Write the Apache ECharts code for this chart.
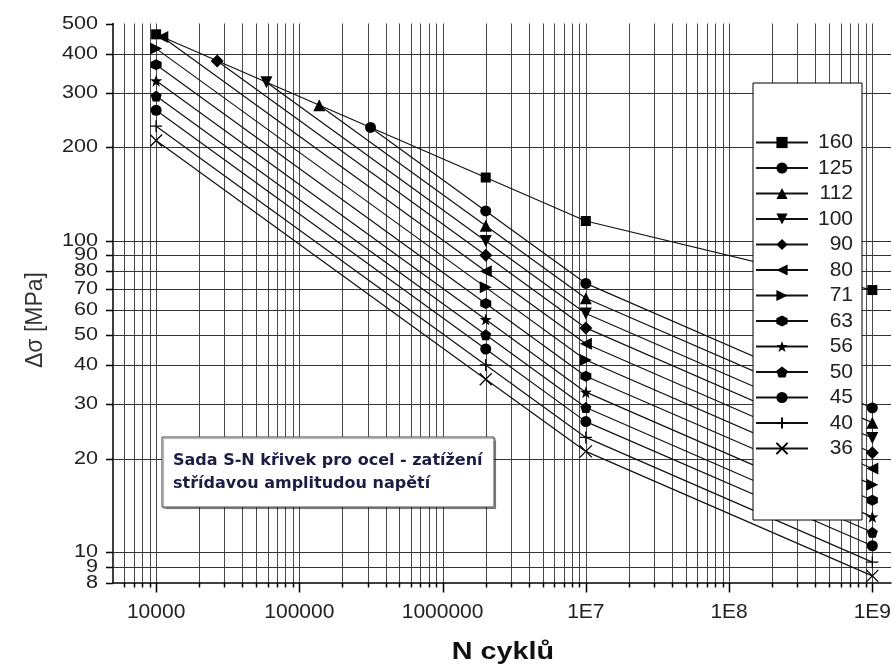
<!DOCTYPE html>
<html>
<head>
<meta charset="utf-8">
<script src="https://cdn.jsdelivr.net/npm/echarts@6/dist/echarts.min.js"></script>
<style>html,body{margin:0;padding:0;background:#fff}#c{width:894px;height:671px}</style>
</head>
<body>
<div id="c"></div>
<script>
// ---- data ----
const categories = ['160','125','112','100','90','80','71','63','56','50','45','40','36'];
const N_start = [10000, 314000, 137700, 58900, 26700, 11050, 10000, 10000, 10000, 10000, 10000, 10000, 10000];
const S_start = [461.6, 231.7, 273, 324, 379, 452.6, 415.2, 368.4, 327.5, 292.4, 263.2, 233.9, 210.5];
const N_points = [2000000, 10000000, 1000000000];
const S_2e6 = [160, 125, 112, 100, 90, 80, 71, 63, 56, 50, 45, 40, 36];
const S_1e7 = [116, 73.1, 65.5, 58.5, 52.6, 46.8, 41.5, 36.8, 32.7, 29.2, 26.3, 23.4, 21.1];
const S_1e9 = [69.6, 29.1, 26.1, 23.3, 20.9, 18.6, 16.5, 14.7, 13.0, 11.6, 10.5, 9.3, 8.4];

const xTickValues = [10000, 100000, 1000000, 10000000, 100000000, 1000000000];
const xTickLabels = ['10000', '100000', '1000000', '1E7', '1E8', '1E9'];
const yTickValues = [8, 9, 10, 20, 30, 40, 50, 60, 70, 80, 90, 100, 200, 300, 400, 500];
const yTickLabels = ['8', '9', '10', '20', '30', '40', '50', '60', '70', '80', '90', '100', '200', '300', '400', '500'];

// ---- styling ----
const FONT = '"Liberation Sans", Arial, sans-serif';
const HEX = 'path://M5,0 L9.33,2.5 L9.33,7.5 L5,10 L0.67,7.5 L0.67,2.5 Z';
const STAR = 'path://M5,0 L6.18,3.38 L9.76,3.45 L6.9,5.62 L7.94,9.05 L5,7 L2.06,9.05 L3.1,5.62 L0.24,3.45 L3.82,3.38 Z';
const PENT = 'path://M5,0 L9.76,3.45 L7.94,9.05 L2.06,9.05 L0.24,3.45 Z';
const PLUS = 'path://M5,0 L5,10 M0,5 L10,5';
const CROSS = 'path://M0,0 L10,10 M10,0 L0,10';
const symbols = ['rect', 'circle', 'triangle', 'triangle', 'diamond', 'triangle', 'triangle', HEX, STAR, PENT, 'circle', PLUS, CROSS];
const rotations = [0, 0, 0, 180, 0, 90, -90, 0, 0, 0, 0, 0, 0];
const sizes = [10, 11, 12, 12, 13, 12, 12, 11, 12, 11, 11, 12, 12];
const strokeOnly = [false, false, false, false, false, false, false, false, false, false, false, true, true];

// grid line / tick descriptors
const gridItems = [];
const X_MIN = 5000, X_MAX = 1.35e9, Y_MIN = 8, Y_MAX = 500;
for (let d = 3; d <= 9; d++) {
  for (let k = 1; k <= 9; k++) {
    const v = k * Math.pow(10, d);
    if (v <= X_MIN || v > X_MAX) continue;
    gridItems.push({dir: 'x', v: v, major: k === 1});
  }
}
yTickValues.forEach((v, i) => {
  gridItems.push({dir: 'y', v: v, label: yTickLabels[i], line: v !== Y_MIN && v !== Y_MAX});
});

const series = categories.map((name, i) => ({
  name: name,
  type: 'line',
  data: [[N_start[i], S_start[i]], [N_points[0], S_2e6[i]], [N_points[1], S_1e7[i]], [N_points[2], S_1e9[i]]],
  symbol: symbols[i],
  symbolSize: sizes[i],
  symbolRotate: rotations[i],
  showSymbol: true,
  lineStyle: {color: '#111', width: 1.2},
  itemStyle: {color: '#000', borderColor: '#000', borderWidth: strokeOnly[i] ? 1.3 : 0},
  emphasis: {disabled: true},
  silent: true,
  animation: false,
  z: 3
}));

series.unshift({
  type: 'custom',
  coordinateSystem: 'cartesian2d',
  silent: true,
  animation: false,
  z: 1,
  clip: false,
  data: gridItems.map(g => g.dir === 'x' ? [g.v, 100] : [1e6, g.v]),
  renderItem: function (params, api) {
    const g = gridItems[params.dataIndex];
    const cs = params.coordSys;
    const left = cs.x, top = cs.y, right = cs.x + cs.width, bottom = cs.y + cs.height;
    const children = [];
    if (g.dir === 'x') {
      const x = Math.round(api.coord([g.v, 100])[0]) + 0.5;
      children.push({type: 'line', shape: {x1: x, y1: top, x2: x, y2: bottom}, style: {stroke: '#4a4a4a', lineWidth: 1}});
      children.push({type: 'line', shape: {x1: x, y1: bottom, x2: x, y2: bottom + (g.major ? 10 : 5)}, style: {stroke: '#000', lineWidth: 1.5}});
    } else {
      const y = Math.round(api.coord([1e6, g.v])[1]) + 0.5;
      if (g.line) children.push({type: 'line', shape: {x1: left, y1: y, x2: right, y2: y}, style: {stroke: '#333', lineWidth: 1}});
      children.push({type: 'line', shape: {x1: left - 7, y1: y, x2: left, y2: y}, style: {stroke: '#000', lineWidth: 1.5}});
      children.push({type: 'text', x: left - 15, y: y, scaleX: 1.2,
        style: {text: g.label, align: 'right', verticalAlign: 'middle', fontSize: 18, fontFamily: FONT, fill: '#222'}});
    }
    return {type: 'group', children: children};
  }
});

const chart = echarts.init(document.getElementById('c'), null, {renderer: 'canvas'});
chart.setOption({
  animation: false,
  backgroundColor: '#fff',
  textStyle: {fontFamily: FONT},
  grid: {left: 113, right: 3, top: 23.5, bottom: 88.5, containLabel: false, outerBoundsMode: 'none'},
  xAxis: {
    type: 'log', min: X_MIN, max: X_MAX, logBase: 10,
    axisLine: {show: true, onZero: false, lineStyle: {color: '#000', width: 1.5}},
    axisTick: {show: false},
    splitLine: {show: false},
    minorTick: {show: false},
    axisLabel: {
      interval: 0, margin: 19, fontSize: 21, fontFamily: FONT, color: '#222',
      showMinLabel: false, showMaxLabel: false,
      formatter: function (v) {
        for (let i = 0; i < xTickValues.length; i++) {
          if (Math.abs(v - xTickValues[i]) / xTickValues[i] < 1e-6) return xTickLabels[i];
        }
        return '';
      }
    }
  },
  yAxis: {
    type: 'log', min: Y_MIN, max: Y_MAX, logBase: 10,
    axisLine: {show: true, onZero: false, lineStyle: {color: '#000', width: 1.5}},
    axisTick: {show: false},
    axisLabel: {show: false},
    splitLine: {show: false}
  },
  legend: {
    data: categories,
    orient: 'vertical',
    left: 753, top: 83,
    padding: [49, 9, 61, 2],
    itemWidth: 52, itemHeight: 14, itemGap: 4.5,
    backgroundColor: '#fff', borderColor: '#000', borderWidth: 1,
    selectedMode: false,
    formatter: '{a|{name}}',
    textStyle: {
      fontSize: 21, fontFamily: FONT, color: '#222',
      rich: {a: {width: 40, align: 'right', fontSize: 21, fontFamily: FONT, color: '#222', lineHeight: 20}}
    }
  },
  graphic: [
    {type: 'rect', z: 10, shape: {x: 162, y: 437, width: 332, height: 70},
     style: {fill: '#fff', stroke: '#444', lineWidth: 1, shadowColor: 'rgba(0,0,0,0.35)', shadowOffsetX: 1.5, shadowOffsetY: 1.5, shadowBlur: 1}},
    {type: 'text', z: 11, x: 173, y: 461,
     style: {text: 'Sada S-N křivek pro ocel - zatížení', fontFamily: '"DejaVu Sans", Verdana, sans-serif', fontWeight: 'bold', fontSize: 16, fill: '#1d1d44', verticalAlign: 'middle'}},
    {type: 'text', z: 11, x: 173, y: 484,
     style: {text: 'střídavou amplitudou napětí', fontFamily: '"DejaVu Sans", Verdana, sans-serif', fontWeight: 'bold', fontSize: 16, fill: '#1d1d44', verticalAlign: 'middle'}},
    {type: 'text', x: 36, y: 320, rotation: Math.PI / 2,
     style: {text: 'Δσ [MPa]', fontFamily: FONT, fontSize: 23, fill: '#333', align: 'center', verticalAlign: 'middle'}},
    {type: 'text', x: 503, y: 653, scaleX: 1.25,
     style: {text: 'N cyklů', fontFamily: FONT, fontWeight: 'bold', fontSize: 23, fill: '#111', align: 'center', verticalAlign: 'middle'}}
  ],
  series: series
});
</script>
</body>
</html>
